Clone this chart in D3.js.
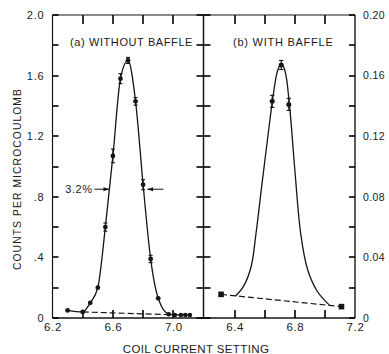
<!DOCTYPE html>
<html>
<head>
<meta charset="utf-8">
<script src="https://cdn.jsdelivr.net/npm/d3@7"></script>
<style>
  html, body { margin: 0; padding: 0; background: #fff; }
  svg { display: block; }
  text { font-family: "Liberation Sans", Arial, sans-serif; fill: #1a1a1a; }
</style>
</head>
<body>
<script>
// (a) without baffle: measured counts per microcoulomb vs coil current setting
const coilA   = [6.30, 6.40, 6.45, 6.50, 6.55, 6.60, 6.65, 6.70, 6.75, 6.80, 6.85, 6.90, 6.97, 7.01, 7.05, 7.08, 7.11];
const countsA = [0.05, 0.04, 0.10, 0.20, 0.60, 1.07, 1.58, 1.70, 1.43, 0.88, 0.39, 0.13, 0.025, 0.02, 0.02, 0.02, 0.02];
const errA    = [0, 0, 0, 0, 0.027, 0.045, 0.033, 0.02, 0.025, 0.033, 0.024, 0, 0, 0, 0, 0, 0];
// background estimate under peak (a)
const bgCoilA   = [6.40, 6.97];
const bgCountsA = [0.04, 0.022];
// half-maximum width marks
const fwhmCoil = [6.577, 6.808];
const fwhmLabel = "3.2%";

// (b) with baffle: measured points, drawn curve and background
const coilB   = [6.65, 6.71, 6.76];
const countsB = [0.143, 0.167, 0.141];
const errB    = [0.004, 0.003, 0.004];
const bgCoilB   = [6.31, 7.11];
const bgCountsB = [0.0156, 0.0075];
const curveCoilB   = [6.407, 6.46, 6.51, 6.54, 6.585, 6.62, 6.655, 6.685, 6.71, 6.735, 6.765, 6.80, 6.84, 6.885, 6.95, 7.03];
const curveCountsB = [0.0145, 0.021, 0.034, 0.054, 0.091, 0.119, 0.146, 0.163, 0.168, 0.163, 0.140, 0.098, 0.055, 0.032, 0.0175, 0.0085];

// axis ticks and labels
const xLabelsA = [6.2, 6.6, 7.0];
const xLabelsB = [6.4, 6.8, 7.2];
const xMinor   = [6.4, 6.6, 6.8, 7.0];
const yLabelsA = [0, 0.4, 0.8, 1.2, 1.6, 2.0];
const yTextA   = ["0", ".4", ".8", "1.2", "1.6", "2.0"];
const yLabelsB = [0, 0.04, 0.08, 0.12, 0.16, 0.20];
const yTextB   = ["0", "0.04", "0.08", "0.12", "0.16", "0.20"];

const W = 389, H = 354;
const plotL = 52.5, plotMid = 203.5, plotR = 355, plotT = 15, plotB = 318;
const ink = "#151515";

const svg = d3.select("body").append("svg").attr("width", W).attr("height", H);
svg.append("rect").attr("width", W).attr("height", H).attr("fill", "#fff");

const xA = d3.scaleLinear().domain([6.2, 7.2]).range([plotL, plotMid]);
const xB = d3.scaleLinear().domain([6.2, 7.2]).range([plotMid + 1, plotR]);
const yA = d3.scaleLinear().domain([0, 2.0]).range([plotB, plotT]);
const yB = d3.scaleLinear().domain([0, 0.20]).range([plotB, plotT]);

// frame
const frame = svg.append("g").attr("stroke", ink).attr("stroke-width", 1.2).attr("fill", "none");
frame.append("line").attr("x1", plotL).attr("x2", plotR).attr("y1", plotT).attr("y2", plotT).attr("stroke-width", 1);
frame.append("line").attr("x1", plotL).attr("x2", plotR).attr("y1", plotB).attr("y2", plotB).attr("stroke-width", 1.4);
frame.append("line").attr("x1", plotL).attr("x2", plotL).attr("y1", plotT).attr("y2", plotB);
frame.append("line").attr("x1", plotMid).attr("x2", plotMid).attr("y1", plotT).attr("y2", plotB).attr("stroke-width", 1.5);
frame.append("line").attr("x1", plotR).attr("x2", plotR).attr("y1", plotT).attr("y2", plotB).attr("stroke-width", 1.4);

// tick marks (short strokes placed through the scales)
const tickGroup = svg.append("g").attr("stroke", "#000").attr("stroke-width", 1.6);
const hTicks = (vals, y, x0, x1) => tickGroup.append("g").selectAll("line").data(vals).join("line")
  .attr("x1", x0).attr("x2", x1).attr("y1", d => Math.round(y(d))).attr("y2", d => Math.round(y(d)));
const vTicks = (vals, x, y0, y1) => tickGroup.append("g").selectAll("line").data(vals).join("line")
  .attr("y1", y0).attr("y2", y1).attr("x1", d => Math.round(x(d))).attr("x2", d => Math.round(x(d)));

hTicks(yA.ticks(10), yA, plotL, plotL + 6);           // left axis, inward
hTicks(yA.ticks(10), yA, plotMid - 7, plotMid + 7);   // divider, both sides
hTicks(yB.ticks(10), yB, plotR - 6, plotR);           // right axis, inward
[xA, xB].forEach(x => {
  vTicks(xMinor, x, plotT, plotT + 9);                // top, hanging down
  vTicks(xMinor, x, plotB - 8, plotB);                // bottom, pointing up
});

// left axis labels
svg.append("g").attr("transform", `translate(${plotL},0)`)
  .call(d3.axisLeft(yA).tickValues(yLabelsA).tickSize(0).tickPadding(8)
    .tickFormat((d, i) => yTextA[i]))
  .call(g => g.select(".domain").remove())
  .call(g => g.selectAll("text").attr("font-size", 11).attr("letter-spacing", 0.8).attr("fill", ink));

// right axis labels
svg.append("g").attr("transform", `translate(${plotR},0)`)
  .call(d3.axisRight(yB).tickValues(yLabelsB).tickSize(0).tickPadding(8)
    .tickFormat((d, i) => yTextB[i]))
  .call(g => g.select(".domain").remove())
  .call(g => g.selectAll("text").attr("font-size", 10.5).attr("letter-spacing", 0.4).attr("fill", ink));

// bottom labels
[[xA, xLabelsA], [xB, xLabelsB]].forEach(([x, vals]) => {
  svg.append("g").attr("transform", `translate(0,${plotB})`)
    .call(d3.axisBottom(x).tickValues(vals).tickSize(0).tickPadding(5).tickFormat(d3.format(".1f")))
    .call(g => g.select(".domain").remove())
    .call(g => g.selectAll("text").attr("font-size", 11.5).attr("letter-spacing", 0.6).attr("fill", ink));
});

// axis titles
svg.append("text").attr("x", 196).attr("y", 352.5).attr("text-anchor", "middle")
  .attr("font-size", 11.5).attr("letter-spacing", 0.4).text("COIL CURRENT SETTING");
svg.append("text").attr("transform", "translate(20.5,179) rotate(-90)").attr("text-anchor", "middle")
  .attr("font-size", 10.3).attr("letter-spacing", 1.1).text("COUNTS PER MICROCOULOMB");

// panel titles
svg.append("text").attr("x", 70).attr("y", 45.5).attr("font-size", 11).attr("letter-spacing", 0.6)
  .text("(a) WITHOUT BAFFLE");
svg.append("text").attr("x", 233).attr("y", 45.5).attr("font-size", 11).attr("letter-spacing", 0.75)
  .text("(b) WITH  BAFFLE");

// ---- panel (a)
const ptsA = coilA.map((c, i) => ({ x: c, y: countsA[i], e: errA[i] }));
svg.append("path").datum(ptsA)
  .attr("fill", "none").attr("stroke", ink).attr("stroke-width", 1.3)
  .attr("d", d3.line().x(d => xA(d.x)).y(d => yA(d.y)).curve(d3.curveMonotoneX));

svg.append("path").datum(bgCoilA.map((c, i) => [c, bgCountsA[i]]))
  .attr("fill", "none").attr("stroke", ink).attr("stroke-width", 1.2).attr("stroke-dasharray", "6,3")
  .attr("d", d3.line().x(d => xA(d[0])).y(d => yA(d[1])));

const gA = svg.append("g");
gA.selectAll("line.err").data(ptsA.filter(d => d.e > 0)).join("line")
  .attr("x1", d => xA(d.x)).attr("x2", d => xA(d.x))
  .attr("y1", d => yA(d.y + d.e)).attr("y2", d => yA(d.y - d.e))
  .attr("stroke", ink).attr("stroke-width", 1.1);
gA.selectAll("g.cap").data(ptsA.filter(d => d.e > 0)).join("g").each(function (d) {
  [d.y + d.e, d.y - d.e].forEach(v => d3.select(this).append("line")
    .attr("x1", xA(d.x) - 2).attr("x2", xA(d.x) + 2).attr("y1", yA(v)).attr("y2", yA(v))
    .attr("stroke", ink).attr("stroke-width", 1.1));
});
gA.selectAll("circle").data(ptsA).join("circle")
  .attr("cx", d => xA(d.x)).attr("cy", d => yA(d.y))
  .attr("r", d => d.y < 0.03 && d.x > 6.95 ? 2.3 : 2.4).attr("fill", ink);

// half-maximum arrows
const half = d3.max(countsA) / 2;
const defs = svg.append("defs");
defs.append("marker").attr("id", "arrow").attr("viewBox", "0 0 10 10")
  .attr("refX", 10).attr("refY", 5).attr("markerWidth", 6).attr("markerHeight", 6)
  .attr("orient", "auto-start-reverse")
  .append("path").attr("d", "M0,1.5 L10,5 L0,8.5 Z").attr("fill", ink);
svg.append("line").attr("x1", xA(fwhmCoil[0]) - 15).attr("x2", xA(fwhmCoil[0]))
  .attr("y1", yA(half)).attr("y2", yA(half)).attr("stroke", ink).attr("stroke-width", 1)
  .attr("marker-end", "url(#arrow)");
svg.append("line").attr("x1", xA(fwhmCoil[1]) + 19).attr("x2", xA(fwhmCoil[1]) + 3)
  .attr("y1", yA(half)).attr("y2", yA(half)).attr("stroke", ink).attr("stroke-width", 1)
  .attr("marker-end", "url(#arrow)");
svg.append("text").attr("x", xA(fwhmCoil[0]) - 17).attr("y", yA(half) + 4).attr("text-anchor", "end")
  .attr("font-size", 11).attr("letter-spacing", 0.5).text(fwhmLabel);

// ---- panel (b)
svg.append("path").datum(curveCoilB.map((c, i) => [c, curveCountsB[i]]))
  .attr("fill", "none").attr("stroke", ink).attr("stroke-width", 1.3)
  .attr("d", d3.line().x(d => xB(d[0])).y(d => yB(d[1])).curve(d3.curveCatmullRom.alpha(0.5)));

svg.append("path").datum(bgCoilB.map((c, i) => [c, bgCountsB[i]]))
  .attr("fill", "none").attr("stroke", ink).attr("stroke-width", 1.2).attr("stroke-dasharray", "6,3")
  .attr("d", d3.line().x(d => xB(d[0])).y(d => yB(d[1])));

svg.append("g").selectAll("rect").data(bgCoilB.map((c, i) => [c, bgCountsB[i]])).join("rect")
  .attr("x", d => xB(d[0]) - 2.8).attr("y", d => yB(d[1]) - 2.8)
  .attr("width", 5.6).attr("height", 5.6).attr("fill", ink);

const ptsB = coilB.map((c, i) => ({ x: c, y: countsB[i], e: errB[i] }));
const gB = svg.append("g");
gB.selectAll("line.err").data(ptsB).join("line")
  .attr("x1", d => xB(d.x)).attr("x2", d => xB(d.x))
  .attr("y1", d => yB(d.y + d.e)).attr("y2", d => yB(d.y - d.e))
  .attr("stroke", ink).attr("stroke-width", 1.1);
gB.selectAll("g.cap").data(ptsB).join("g").each(function (d) {
  [d.y + d.e, d.y - d.e].forEach(v => d3.select(this).append("line")
    .attr("x1", xB(d.x) - 2.2).attr("x2", xB(d.x) + 2.2).attr("y1", yB(v)).attr("y2", yB(v))
    .attr("stroke", ink).attr("stroke-width", 1.1));
});
gB.selectAll("circle").data(ptsB).join("circle")
  .attr("cx", d => xB(d.x)).attr("cy", d => yB(d.y)).attr("r", 2.5).attr("fill", ink);
</script>
</body>
</html>
